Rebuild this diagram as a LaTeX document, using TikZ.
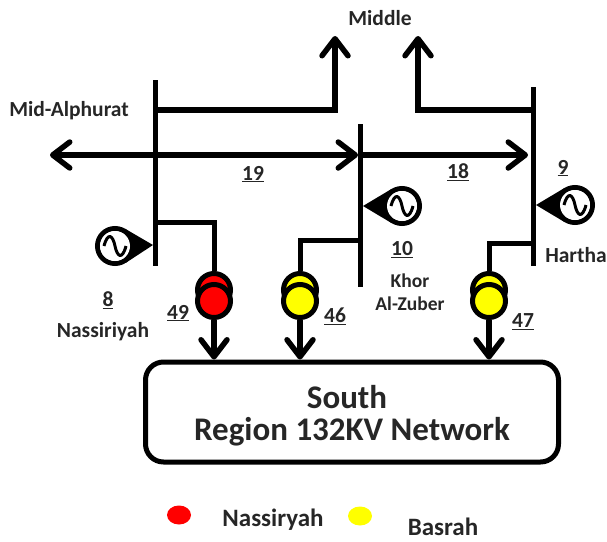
\documentclass[tikz,border=0pt]{standalone}
\usepackage{fontspec}
\setmainfont{Carlito}
\usetikzlibrary{arrows.meta,calc,shapes.geometric}
\definecolor{trred}{RGB}{255,0,0}
\definecolor{tryellow}{RGB}{255,255,0}
\definecolor{labelgray}{RGB}{38,38,38}
\tikzset{
    busline/.style={line width=5pt},
    branch/.style={line width=5pt, line join=miter},
    flow/.style={line width=5.5pt, -{Straight Barb[length=17pt,width=26pt,line width=5.5pt,round]}},
    trcoil/.style={circle, draw, line width=5pt, minimum size=33pt, inner sep=0pt},
    gen/.style={circle, draw, line width=5pt, minimum size=35pt, inner sep=0pt},
    lbl/.style={font=\bfseries\fontsize{21.5}{23}\selectfont, text=labelgray, align=center, inner sep=0pt},
    sinewave/.pic={\draw[line width=3pt] (-11,0) .. controls (-7,-15) and (-2,-10) .. (0,0) .. controls (2,10) and (7,15) .. (11,0);}
}
\begin{document}
\begin{tikzpicture}[x=1pt, y=-1pt]
    \useasboundingbox (0,0) rectangle (607,541);
    % buses
    \coordinate (busAtop) at (155,80);
    \coordinate (busAbot) at (155,266);
    \coordinate (busBtop) at (360,124);
    \coordinate (busBbot) at (360,287);
    \coordinate (busCtop) at (533,87);
    \coordinate (busCbot) at (533,266);
    \draw[busline] (busAtop) -- (busAbot);
    \draw[busline] (busBtop) -- (busBbot);
    \draw[busline] (busCtop) -- (busCbot);
    % 400kV lines
    \coordinate (westend) at (50,155);
    \coordinate (busBin) at (358,155);
    \coordinate (busBout) at (360,155);
    \coordinate (busCin) at (528,155);
    \coordinate (upA) at (335,36);
    \coordinate (upC) at (418,36);
    \draw[flow] (busAtop |- westend) -- (westend);
    \draw[flow] (busAtop |- westend) -- (busBin);
    \draw[flow] (busBout) -- (busCin);
    \draw[flow] ($(busAtop)+(0,30)$) -| (upA);
    \draw[flow] ($(busCtop)+(0,23)$) -| (upC);
    % transformers
    \node[trcoil, fill=trred] (tr49u) at (214,290) {};
    \node[trcoil, fill=trred] (tr49l) at (214,301) {};
    \node[trcoil, fill=tryellow] (tr46u) at (300,290) {};
    \node[trcoil, fill=tryellow] (tr46l) at (300,301) {};
    \node[trcoil, fill=tryellow] (tr47u) at (489,290) {};
    \node[trcoil, fill=tryellow] (tr47l) at (489,301) {};
    \draw[branch] (155,222) -| (tr49u.north);
    \draw[branch] (360,240) -| (tr46u.north);
    \draw[branch] (533,243) -| (tr47u.north);
    % network box
    \node[draw, line width=5pt, rounded corners=18pt, minimum width=413pt, minimum height=100pt, inner sep=0pt] (south) at (352,412) {};
    \node[font=\bfseries\fontsize{33}{35}\selectfont, text=labelgray] (southa) at (347,397) {South};
    \node[font=\bfseries\fontsize{33}{35}\selectfont, text=labelgray] (southb) at (352,432) {Region 132KV Network};
    \draw[flow] (tr49l.south) -- (tr49l.south |- south.north);
    \draw[flow] (tr46l.south) -- (tr46l.south |- south.north);
    \draw[flow] (tr47l.south) -- (tr47l.south |- south.north);
    % generators
    \node[gen] (gen8) at (115,246) {};
    \node[gen] (gen10) at (402,206) {};
    \node[gen] (gen9) at (575,205) {};
    \coordinate (tip8) at (153,245);
    \coordinate (tip10) at (363,206);
    \coordinate (tip9) at (536,205);
    \fill (tip8) -- (tangent cs:node=gen8,point={(tip8)},solution=1) -- (tangent cs:node=gen8,point={(tip8)},solution=2) -- cycle;
    \fill (tip10) -- (tangent cs:node=gen10,point={(tip10)},solution=1) -- (tangent cs:node=gen10,point={(tip10)},solution=2) -- cycle;
    \fill (tip9) -- (tangent cs:node=gen9,point={(tip9)},solution=1) -- (tangent cs:node=gen9,point={(tip9)},solution=2) -- cycle;
    \node[circle, fill=white, minimum size=30pt, inner sep=0pt] (gen8i) at (gen8) {};
    \node[circle, fill=white, minimum size=30pt, inner sep=0pt] (gen10i) at (gen10) {};
    \node[circle, fill=white, minimum size=30pt, inner sep=0pt] (gen9i) at (gen9) {};
    \pic at (gen8) {sinewave};
    \pic at (gen10) {sinewave};
    \pic at (gen9) {sinewave};
    % labels
    \node[lbl] (middle) at (380,18) {Middle};
    \node[lbl] (midalph) at (69,111) {Mid-Alphurat};
    \node[lbl] (n19) at (253,174) {\underline{19}};
    \node[lbl] (n18) at (458,172) {\underline{18}};
    \node[lbl] (n9) at (563,168) {\underline{9}};
    \node[lbl] (n10) at (402,250) {\underline{10}};
    \node[lbl] (n8) at (108,300) {\underline{8}};
    \node[lbl] (n49) at (178,313) {\underline{49}};
    \node[lbl] (n46) at (335,316) {\underline{46}};
    \node[lbl] (n47) at (523,322) {\underline{47}};
    \node[lbl, font=\bfseries\fontsize{19.5}{23}\selectfont] (khor) at (410,292) {Khor\\Al-Zuber};
    \node[lbl] (hartha) at (576,255) {Hartha};
    \node[lbl] (nass) at (103,332) {Nassiriyah};
    % legend
    \node[ellipse, fill=trred, minimum width=24pt, minimum height=19pt, inner sep=0pt] (legred) at (179,515) {};
    \node[ellipse, fill=tryellow, minimum width=24pt, minimum height=19pt, inner sep=0pt] (legyellow) at (360,516) {};
    \node[lbl, font=\bfseries\fontsize{25}{27}\selectfont] (legnass) at (273,520) {Nassiryah};
    \node[lbl, font=\bfseries\fontsize{25}{27}\selectfont] (legbas) at (443,527) {Basrah};
\end{tikzpicture}
\end{document}
